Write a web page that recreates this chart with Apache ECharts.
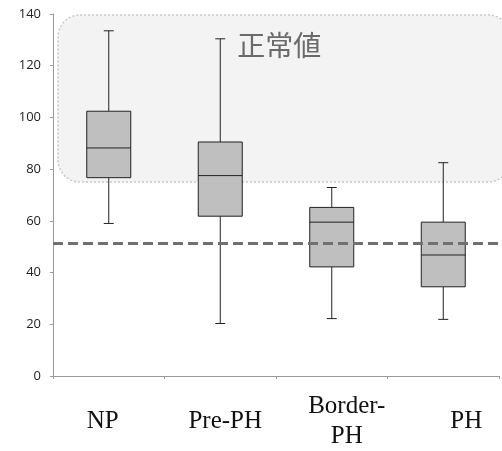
<!DOCTYPE html>
<html>
<head>
<meta charset="utf-8">
<script src="https://cdn.jsdelivr.net/npm/echarts@6/dist/echarts.min.js"></script>
<style>
  html, body { margin: 0; padding: 0; background: #fff; }
  #chart { width: 502px; height: 451px; }
</style>
</head>
<body>
<div id="chart"></div>
<script>
// groups on the x axis
const groups = ["NP", "Pre-PH", "Border-\nPH", "PH"];
// five-number summaries
const whiskerLow = [59, 20.3, 22.2, 21.9];
const q1 = [76.7, 61.8, 42.2, 34.5];
const median = [88.2, 77.5, 59.5, 46.8];
const q3 = [102.4, 90.5, 65.2, 59.5];
const whiskerHigh = [133.5, 130.4, 72.9, 82.5];
// reference line and normal range band
const cutoff = 51.4;
const normalRange = [75, 139.6];
const normalLabel = "正常値";
const yTicks = { min: 0, max: 140, interval: 20 };

const chart = echarts.init(document.getElementById("chart"));

const boxData = groups.map((g, i) => [i, whiskerLow[i], q1[i], median[i], q3[i], whiskerHigh[i]]);

// the labels in the original sit a little off the category centres
const labelStyles = {
  a: { padding: [0, 12, 0, 0] },
  b: { padding: [0, 0, 0, 10] },
  c: { padding: [0, 0, 0, 30] },
  d: { padding: [0, 0, 0, 46] }
};
const labelKeys = ["a", "b", "c", "d"];
const richBase = { fontFamily: "Liberation Serif", fontSize: 25, color: "#111", lineHeight: 30 };
const rich = {};
Object.keys(labelStyles).forEach(k => { rich[k] = Object.assign({}, richBase, labelStyles[k]); });

function renderBox(params, api) {
  const i = api.value(0);
  const lo = api.coord([i, api.value(1)]);
  const b1 = api.coord([i, api.value(2)]);
  const md = api.coord([i, api.value(3)]);
  const b3 = api.coord([i, api.value(4)]);
  const hi = api.coord([i, api.value(5)]);
  const half = 22;
  const cap = 5;
  const x = lo[0];
  const line = { stroke: "#222", lineWidth: 1 };
  return {
    type: "group",
    children: [
      { type: "line", shape: { x1: x, y1: hi[1], x2: x, y2: b3[1] }, style: line },
      { type: "line", shape: { x1: x - cap, y1: hi[1], x2: x + cap, y2: hi[1] }, style: line },
      { type: "line", shape: { x1: x, y1: b1[1], x2: x, y2: lo[1] }, style: line },
      { type: "line", shape: { x1: x - cap, y1: lo[1], x2: x + cap, y2: lo[1] }, style: line },
      {
        type: "rect",
        shape: { x: x - half, y: b3[1], width: half * 2, height: b1[1] - b3[1] },
        style: { fill: "#bfbfbf", stroke: "#222", lineWidth: 1 }
      },
      { type: "line", shape: { x1: x - half, y1: md[1], x2: x + half, y2: md[1] }, style: line }
    ]
  };
}

const option = {
  animation: false,
  backgroundColor: "#fff",
  grid: { left: 53, right: 3, top: 14, bottom: 72 },
  xAxis: {
    type: "category",
    data: groups,
    axisLine: { lineStyle: { color: "#999", width: 1 } },
    axisTick: { show: true, length: 3, lineStyle: { color: "#999" } },
    axisLabel: {
      fontFamily: "Liberation Serif",
      fontSize: 25,
      color: "#111",
      lineHeight: 30,
      verticalAlign: "middle",
      margin: 45,
      interval: 0,
      formatter: (value, idx) =>
        value.split("\n").map(s => "{" + labelKeys[idx] + "|" + s + "}").join("\n"),
      rich: rich
    },
    splitLine: { show: false }
  },
  yAxis: {
    type: "value",
    min: yTicks.min,
    max: yTicks.max,
    interval: yTicks.interval,
    axisLine: { show: true, lineStyle: { color: "#999", width: 1 } },
    axisTick: { show: true, length: 3, lineStyle: { color: "#999" } },
    axisLabel: { fontFamily: "Open Sans", fontSize: 13, color: "#222", margin: 12 },
    splitLine: { show: false }
  },
  series: [
    {
      type: "custom",
      renderItem: renderBox,
      data: boxData,
      z: 3,
      markLine: {
        silent: true,
        symbol: "none",
        label: { show: false },
        lineStyle: { color: "#707070", width: 3, type: [10, 5] },
        data: [{ yAxis: cutoff }]
      }
    }
  ]
};

chart.setOption(option);

// rounded band for the normal range, placed through the axis scales
const c0 = chart.convertToPixel({ xAxisIndex: 0 }, 0);
const c1 = chart.convertToPixel({ xAxisIndex: 0 }, 1);
const step = c1 - c0;
const yTop = chart.convertToPixel({ yAxisIndex: 0 }, normalRange[1]);
const yBot = chart.convertToPixel({ yAxisIndex: 0 }, normalRange[0]);
const xLeft = c0 - 0.455 * step;
const xRight = c0 + 3.6 * step;

chart.setOption({
  graphic: [
    {
      type: "rect",
      z: 0,
      shape: { x: xLeft, y: yTop, width: xRight - xLeft, height: yBot - yTop, r: 22 },
      style: { fill: "#f3f3f3", stroke: "#c8c8c8", lineWidth: 1.5, lineDash: [2, 2] },
      silent: true
    },
    {
      type: "text",
      z: 1,
      x: c0 + 1.53 * step,
      y: yTop + 30,
      style: {
        text: normalLabel,
        fontFamily: "Noto Sans CJK JP",
        fontSize: 28,
        fill: "#6a6a6a",
        align: "center",
        verticalAlign: "middle"
      },
      silent: true
    }
  ]
});
</script>
</body>
</html>
